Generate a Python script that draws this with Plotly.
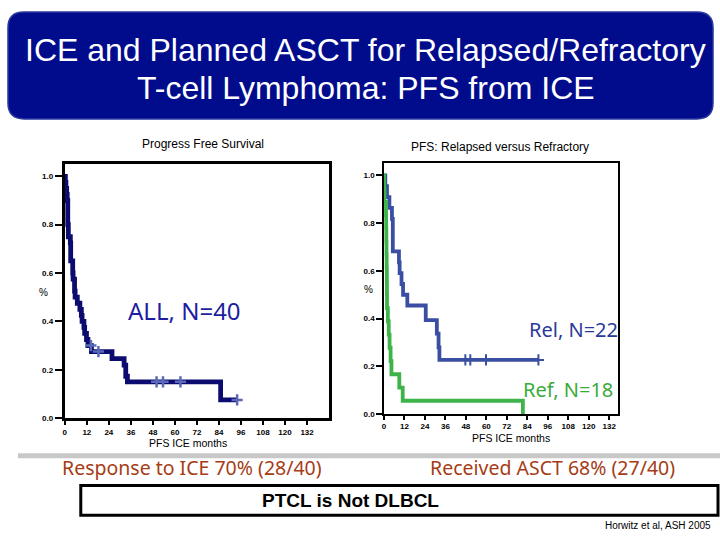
import plotly.graph_objects as go

W, H = 720, 540

# ---- data ----
all_t = [0, 0.3, 0.6, 1.0, 1.3, 1.6, 1.9, 3.0, 3.2, 4.3, 4.5, 5.3, 5.6, 6.8, 8.2, 9.0, 9.4, 10.4, 10.8, 11.8, 12.6, 14.5, 25.7, 32.3, 33.2, 34.1, 84.9, 93.9]
all_s = [1.0, 0.975, 0.95, 0.925, 0.9, 0.8, 0.75, 0.725, 0.65, 0.6, 0.575, 0.525, 0.5, 0.475, 0.45, 0.425, 0.4, 0.375, 0.35, 0.325, 0.3, 0.275, 0.246, 0.219, 0.173, 0.150, 0.075, 0.075]
all_cens_t = [14.2, 18.3, 50.0, 53.5, 63.0, 93.9]
all_cens_s = [0.3, 0.275, 0.15, 0.15, 0.15, 0.075]

rel_t = [0, 0.8, 1.8, 3.2, 4.7, 5.2, 8.8, 9.2, 10.3, 11.2, 13.7, 24.5, 31.0, 32.0, 32.5, 90.5]
rel_s = [1.0, 0.955, 0.909, 0.864, 0.818, 0.682, 0.636, 0.591, 0.545, 0.5, 0.455, 0.394, 0.337, 0.28, 0.227, 0.227]
rel_cens_t = [47.7, 50.6, 59.8, 90.5]
rel_cens_s = [0.227, 0.227, 0.227, 0.227]

ref_t = [0, 0.1, 0.3, 1.2, 1.3, 1.4, 1.5, 1.6, 1.7, 1.75, 1.8, 2.3, 2.8, 3.3, 3.9, 4.4, 9.0, 11.0, 81.4]
ref_s = [1.0, 0.944, 0.889, 0.833, 0.778, 0.722, 0.667, 0.611, 0.556, 0.5, 0.444, 0.389, 0.333, 0.278, 0.222, 0.167, 0.111, 0.056, 0.0]

x_ticks = [0, 12, 24, 36, 48, 60, 72, 84, 96, 108, 120, 132]
y_ticks = [0.0, 0.2, 0.4, 0.6, 0.8, 1.0]
y_ticktext = ["0.0", "0.2", "0.4", "0.6", "0.8", "1.0"]


def X(px):
    return px / W


def Y(py):
    return 1 - py / H


fig = go.Figure()

NAVY = "#0c0c70"
REL = "#3a4fa2"
REF = "#3db34a"

fig.add_trace(go.Scatter(x=all_t, y=all_s, mode="lines", line=dict(shape="hv", color=NAVY, width=4.8),
                         xaxis="x", yaxis="y", showlegend=False, hoverinfo="skip"))
fig.add_trace(go.Scatter(x=all_cens_t, y=all_cens_s, mode="markers",
                         marker=dict(symbol="cross-thin", size=8, line=dict(color="#5a6ab8", width=2.5)),
                         xaxis="x", yaxis="y", showlegend=False, hoverinfo="skip"))

fig.add_trace(go.Scatter(x=rel_t, y=rel_s, mode="lines", line=dict(shape="hv", color=REL, width=3.8),
                         xaxis="x2", yaxis="y2", showlegend=False, hoverinfo="skip"))
fig.add_trace(go.Scatter(x=rel_cens_t, y=rel_cens_s, mode="markers",
                         marker=dict(symbol="cross-thin", size=8, line=dict(color=REL, width=2)),
                         xaxis="x2", yaxis="y2", showlegend=False, hoverinfo="skip"))
fig.add_trace(go.Scatter(x=ref_t, y=ref_s, mode="lines", line=dict(shape="hv", color=REF, width=3.8),
                         xaxis="x2", yaxis="y2", showlegend=False, hoverinfo="skip"))

tickfont = dict(family="Liberation Sans", size=8, color="black", weight="bold")

common_x = dict(tickvals=x_ticks, ticks="outside", showgrid=False, zeroline=False,
                showline=True, mirror=True, linecolor="black", tickcolor="black",
                tickfont=tickfont, fixedrange=True)
common_y = dict(tickvals=y_ticks, ticktext=y_ticktext, ticks="outside", showgrid=False, zeroline=False,
                showline=True, mirror=True, linecolor="black", tickcolor="black",
                tickfont=tickfont, fixedrange=True)

fig.update_layout(
    width=W, height=H, margin=dict(l=0, r=0, t=0, b=0),
    paper_bgcolor="white", plot_bgcolor="white",
    xaxis=dict(domain=[X(63), X(328)], range=[0, 144], anchor="y", linewidth=3, tickwidth=2, ticklen=4, **common_x),
    yaxis=dict(domain=[Y(422), Y(166)], range=[0, 1.049], anchor="x", linewidth=3, tickwidth=2, ticklen=7, **common_y),
    xaxis2=dict(domain=[X(383), X(618)], range=[0, 137.3], anchor="y2", linewidth=1.5, tickwidth=1.5, ticklen=4, **common_x),
    yaxis2=dict(domain=[Y(418), Y(165)], range=[0, 1.05], anchor="x2", linewidth=1.5, tickwidth=1.5, ticklen=6, **common_y),
)

# ---- shapes ----
x0, x1, y0, y1, r = 6, 713, 12, 120, 16
rx, ry = r / W, r / H
path = (f"M {X(x0)+rx},{Y(y0)} L {X(x1)-rx},{Y(y0)} Q {X(x1)},{Y(y0)} {X(x1)},{Y(y0)-ry} "
        f"L {X(x1)},{Y(y1)+ry} Q {X(x1)},{Y(y1)} {X(x1)-rx},{Y(y1)} "
        f"L {X(x0)+rx},{Y(y1)} Q {X(x0)},{Y(y1)} {X(x0)},{Y(y1)+ry} "
        f"L {X(x0)},{Y(y0)-ry} Q {X(x0)},{Y(y0)} {X(x0)+rx},{Y(y0)} Z")
shapes = [
    dict(type="path", path=path, xref="paper", yref="paper", fillcolor="#000c8c",
         line=dict(color="#2a3aa0", width=1.5), layer="below"),
    dict(type="line", xref="paper", yref="paper", x0=X(16), x1=X(720), y0=Y(460), y1=Y(460),
         line=dict(color="#c8c8c8", width=5)),
    dict(type="rect", xref="paper", yref="paper", x0=X(79), x1=X(718), y0=Y(490), y1=Y(520),
         line=dict(color="black", width=3), fillcolor="rgba(0,0,0,0)"),
]
fig.update_layout(shapes=shapes)

anns = []


def ann(text, x, y, size, color="black", family="Liberation Sans", xanchor="center", weight="normal"):
    anns.append(dict(text=text, x=X(x), y=Y(y), xref="paper", yref="paper", showarrow=False,
                     xanchor=xanchor, yanchor="middle",
                     font=dict(family=family, size=size, color=color, weight=weight)))


ann("ICE and Planned ASCT for Relapsed/Refractory", 365, 50, 32, "white")
ann("T-cell Lymphoma: PFS from ICE", 365, 89, 32, "white")
ann("Progress Free Survival", 202, 145, 12)
ann("PFS: Relapsed versus Refractory", 499, 148, 12)
ann("%", 42, 295, 10)
ann("%", 368, 292, 10)
ann("PFS ICE months", 187, 447, 10.5)
ann("PFS ICE months", 510, 442, 10.5)
ann("ALL, N=40", 183, 313, 24, "#1e1ea0", "Noto Sans")
ann("Rel, N=22", 573, 333, 20, "#2a3a9c", "Noto Sans")
ann("Ref, N=18", 568, 393, 20, "#3aaa3a", "Noto Sans")
ann("Response to ICE 70% (28/40)", 191, 472, 19.5, "#a63c16", "Noto Sans")
ann("Received ASCT 68% (27/40)", 552, 472, 19.5, "#a63c16", "Noto Sans")
ann("PTCL is Not DLBCL", 349, 505, 19, "black", "Liberation Sans", weight="bold")
ann("Horwitz et al, ASH 2005", 713, 530, 10, "black", "Liberation Sans", xanchor="right")
fig.update_layout(annotations=anns)

fig.write_html("out.html", config={"displayModeBar": False},
               post_script="document.body.style.margin='0';document.body.style.overflow='hidden';")
